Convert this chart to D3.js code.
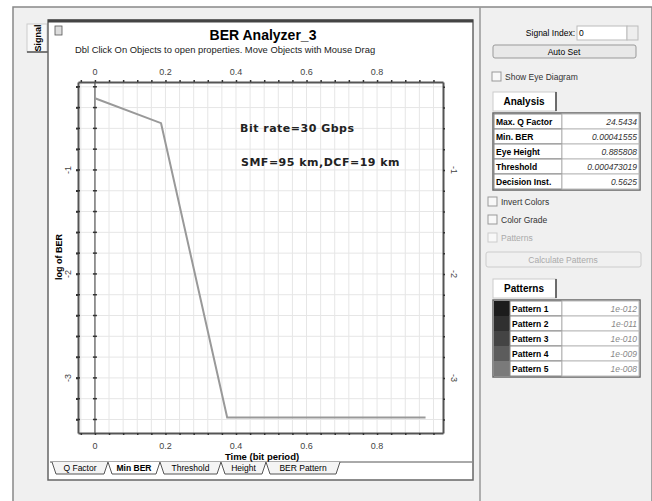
<!DOCTYPE html>
<html>
<head>
<meta charset="utf-8">
<script src="https://cdn.jsdelivr.net/npm/d3@7"></script>
<style>
  body { margin: 0; background: #fff; }
  svg { font-family: "Liberation Sans", Arial, sans-serif; }
</style>
</head>
<body>
<script>
// values
var times = [0, 0.1875, 0.375, 0.9375];
var logBer = [-0.31, -0.55, -3.38, -3.38];
var xTicks = [0, 0.2, 0.4, 0.6, 0.8];
var yTicks = [-1, -2, -3];
var tabNames = ["Q Factor", "Min BER", "Threshold", "Height", "BER Pattern"];
var analysisNames = ["Max. Q Factor", "Min. BER", "Eye Height", "Threshold", "Decision Inst."];
var analysisValues = ["24.5434", "0.00041555", "0.885808", "0.000473019", "0.5625"];
var patternNames = ["Pattern 1", "Pattern 2", "Pattern 3", "Pattern 4", "Pattern 5"];
var patternValues = ["1e-012", "1e-011", "1e-010", "1e-009", "1e-008"];
var patternColors = ["#1c1c1c", "#303030", "#444", "#5c5c5c", "#7a7a7a"];

var width = 652, height = 501;
var svg = d3.select("body").append("svg")
    .attr("width", width)
    .attr("height", height);

// window frame
svg.append("rect").attr("x", 13).attr("y", 7).attr("width", 639).attr("height", 500)
    .attr("fill", "#f0f0f0").attr("stroke", "#888").attr("stroke-width", 1.5);
svg.append("line").attr("x1", 480).attr("x2", 480).attr("y1", 7).attr("y2", 501)
    .attr("stroke", "#999").attr("stroke-width", 1.5);

// left "Signal" tab
svg.append("rect").attr("x", 27).attr("y", 24).attr("width", 20).attr("height", 28)
    .attr("fill", "#f8f8f8").attr("stroke", "#ccc");
svg.append("line").attr("x1", 27).attr("x2", 48).attr("y1", 52).attr("y2", 52).attr("stroke", "#555").attr("stroke-width", 1.5);
svg.append("text").attr("transform", "translate(41,38) rotate(-90)")
    .attr("text-anchor", "middle").attr("font-size", 9).attr("font-weight", "bold").text("Signal");

// chart panel
svg.append("rect").attr("x", 48).attr("y", 20).attr("width", 425).attr("height", 460)
    .attr("fill", "#fff").attr("stroke", "#666").attr("stroke-width", 1.5);
svg.append("line").attr("x1", 48).attr("x2", 473).attr("y1", 21).attr("y2", 21)
    .attr("stroke", "#444").attr("stroke-width", 3);
// small icon
svg.append("rect").attr("x", 55).attr("y", 26).attr("width", 7).attr("height", 9)
    .attr("fill", "#ddd").attr("stroke", "#555").attr("stroke-width", 0.8);

svg.append("text").attr("x", 263).attr("y", 40).attr("text-anchor", "middle")
    .attr("font-size", 14).attr("font-weight", "bold").text("BER Analyzer_3");
svg.append("text").attr("x", 75).attr("y", 53).attr("font-size", 9.4).attr("fill", "#222")
    .text("Dbl Click On Objects to open properties.  Move Objects with Mouse Drag");

// plot
var x = d3.scaleLinear().domain([-0.048, 0.987]).range([78, 443]);
var y = d3.scaleLinear().domain([-0.154, -3.53]).range([82, 433]);

var xMinor = d3.range(-0.04, 0.97, 0.04);
var yMinor = d3.range(-0.2, -3.5, -0.2);

var grid = svg.append("g");
grid.selectAll("line.vx").data(xMinor).enter().append("line")
    .attr("x1", function(d) { return x(d); }).attr("x2", function(d) { return x(d); })
    .attr("y1", y.range()[0]).attr("y2", y.range()[1])
    .attr("stroke", "#e6e6e6").attr("stroke-width", 1);
grid.selectAll("line.hy").data(yMinor).enter().append("line")
    .attr("y1", function(d) { return y(d); }).attr("y2", function(d) { return y(d); })
    .attr("x1", x.range()[0]).attr("x2", x.range()[1])
    .attr("stroke", "#e6e6e6").attr("stroke-width", 1);

// zero line
svg.append("line").attr("x1", x(0)).attr("x2", x(0)).attr("y1", y.range()[0]).attr("y2", y.range()[1])
    .attr("stroke", "#777").attr("stroke-width", 1.5);

// axes with minor ticks as marks
function tickAxis(axis, pos) {
  return svg.append("g").attr("transform", pos).call(axis)
    .call(function(g) { g.select(".domain").attr("stroke", "#555").attr("stroke-width", 2); })
    .call(function(g) { g.selectAll(".tick line").attr("stroke", "#333").attr("stroke-width", 1.5); });
}
tickAxis(d3.axisTop(x).tickValues(xMinor).tickSize(2).tickSizeOuter(0).tickFormat(""), "translate(0," + y.range()[0] + ")");
tickAxis(d3.axisBottom(x).tickValues(xMinor).tickSize(2).tickSizeOuter(0).tickFormat(""), "translate(0," + y.range()[1] + ")");
tickAxis(d3.axisLeft(y).tickValues(yMinor).tickSize(2).tickSizeOuter(0).tickFormat(""), "translate(" + x.range()[0] + ",0)");
tickAxis(d3.axisRight(y).tickValues(yMinor).tickSize(2).tickSizeOuter(0).tickFormat(""), "translate(" + x.range()[1] + ",0)");
// ticks on the zero line
svg.append("g").selectAll("line").data(yMinor).enter().append("line")
    .attr("x1", x(0) - 2).attr("x2", x(0) + 2)
    .attr("y1", function(d) { return y(d); }).attr("y2", function(d) { return y(d); })
    .attr("stroke", "#333").attr("stroke-width", 1.5);
svg.append("g").selectAll("line").data(yMinor).enter().append("line")
    .attr("x1", x.range()[0] - 2).attr("x2", x.range()[0] + 2)
    .attr("y1", function(d) { return y(d); }).attr("y2", function(d) { return y(d); })
    .attr("stroke", "#333").attr("stroke-width", 1.5);

// tick labels
var lab = svg.append("g").attr("font-size", 9).attr("fill", "#444");
lab.selectAll("text.t").data(xTicks).enter().append("text")
    .attr("x", function(d) { return x(d); }).attr("y", 75).attr("text-anchor", "middle")
    .text(function(d) { return d === 0 ? "0" : d3.format(".1f")(d); });
lab.selectAll("text.b").data(xTicks).enter().append("text")
    .attr("x", function(d) { return x(d); }).attr("y", 449).attr("text-anchor", "middle")
    .text(function(d) { return d === 0 ? "0" : d3.format(".1f")(d); });
lab.selectAll("text.l").data(yTicks).enter().append("text")
    .attr("transform", function(d) { return "translate(71," + y(d) + ") rotate(-90)"; })
    .attr("text-anchor", "middle").text(function(d) { return d; });
lab.selectAll("text.r").data(yTicks).enter().append("text")
    .attr("transform", function(d) { return "translate(451," + y(d) + ") rotate(90)"; })
    .attr("text-anchor", "middle").text(function(d) { return d; });

svg.append("text").attr("transform", "translate(62,257) rotate(-90)")
    .attr("text-anchor", "middle").attr("font-size", 9).attr("font-weight", "bold").text("log of BER");
svg.append("text").attr("x", 262).attr("y", 460).attr("text-anchor", "middle")
    .attr("font-size", 9.5).attr("font-weight", "bold").text("Time (bit period)");

// data line
var pts = times.map(function(t, i) { return [t, logBer[i]]; });
svg.append("path").datum(pts)
    .attr("fill", "none").attr("stroke", "#999").attr("stroke-width", 2)
    .attr("d", d3.line().x(function(d) { return x(d[0]); }).y(function(d) { return y(d[1]); }));

var note = svg.append("g").attr("font-family", "'DejaVu Sans', sans-serif")
    .attr("font-size", 11).attr("font-weight", "bold").attr("fill", "#222").attr("letter-spacing", 0.5);
note.append("text").attr("x", 240).attr("y", 132).text("Bit rate=30 Gbps");
note.append("text").attr("x", 241).attr("y", 166).text("SMF=95 km,DCF=19 km");

// bottom tabs
var tabX = [52, 108, 160, 221, 266, 340];
svg.append("line").attr("x1", 50).attr("x2", 472).attr("y1", 462).attr("y2", 462).attr("stroke", "#555");
var tabs = svg.append("g");
tabNames.forEach(function(n, i) {
  var x0 = tabX[i], x1 = tabX[i + 1];
  tabs.append("path")
      .attr("d", "M" + x0 + ",462 L" + (x0 + 4) + ",474 L" + (x1 - 4) + ",474 L" + x1 + ",462")
      .attr("fill", i === 1 ? "#fff" : "#f4f4f4").attr("stroke", "#555");
  tabs.append("text").attr("x", (x0 + x1) / 2).attr("y", 471).attr("text-anchor", "middle")
      .attr("font-size", 8.5).attr("font-weight", i === 1 ? "bold" : "normal").text(n);
});

// right panel
var rp = svg.append("g").attr("font-size", 8.5);
rp.append("text").attr("x", 575).attr("y", 36).attr("text-anchor", "end").text("Signal Index:");
rp.append("rect").attr("x", 577).attr("y", 26).attr("width", 50).attr("height", 14).attr("fill", "#fff").attr("stroke", "#bbb");
rp.append("text").attr("x", 579).attr("y", 36).text("0");
rp.append("rect").attr("x", 627).attr("y", 26).attr("width", 11).attr("height", 14).attr("fill", "#eee").attr("stroke", "#bbb");
rp.append("rect").attr("x", 493).attr("y", 45).attr("width", 143).attr("height", 13).attr("rx", 2)
    .attr("fill", "#e8e8e8").attr("stroke", "#999");
rp.append("text").attr("x", 564).attr("y", 55).attr("text-anchor", "middle").text("Auto Set");

function checkbox(cx, cy, label, faded) {
  rp.append("rect").attr("x", cx).attr("y", cy - 7).attr("width", 9).attr("height", 9)
      .attr("fill", "#f8f8f8").attr("stroke", faded ? "#ccc" : "#999");
  rp.append("text").attr("x", cx + 13).attr("y", cy + 1).attr("fill", faded ? "#aaa" : "#333").text(label);
}
checkbox(492, 79, "Show Eye Diagram", false);

function tabbedTable(top, title, names, values, colors) {
  rp.append("rect").attr("x", 493).attr("y", top - 21).attr("width", 63).attr("height", 19)
      .attr("fill", "#fff").attr("stroke", "#ccc");
  rp.append("line").attr("x1", 556).attr("x2", 556).attr("y1", top - 21).attr("y2", top - 2).attr("stroke", "#444").attr("stroke-width", 1.5);
  rp.append("text").attr("x", 524).attr("y", top - 8).attr("text-anchor", "middle")
      .attr("font-size", 10).attr("font-weight", "bold").text(title);
  var rowH = 15, x0 = colors ? 510 : 494;
  rp.append("rect").attr("x", 493).attr("y", top).attr("width", 147).attr("height", rowH * names.length + 2)
      .attr("fill", "#fff").attr("stroke", "#666").attr("stroke-width", 1.5);
  names.forEach(function(n, i) {
    var ry = top + 1 + i * rowH;
    if (colors) rp.append("rect").attr("x", 494).attr("y", ry).attr("width", 16).attr("height", rowH)
        .attr("fill", colors[i]);
    rp.append("rect").attr("x", x0).attr("y", ry).attr("width", 562 - x0).attr("height", rowH)
        .attr("fill", "#fff").attr("stroke", "#888");
    rp.append("rect").attr("x", 562).attr("y", ry).attr("width", 77).attr("height", rowH)
        .attr("fill", "#fff").attr("stroke", "#bbb");
    rp.append("text").attr("x", x0 + 2).attr("y", ry + 11).attr("font-weight", "bold").text(n);
    rp.append("text").attr("x", 637).attr("y", ry + 11).attr("text-anchor", "end")
        .attr("font-style", "italic").attr("fill", colors ? "#888" : "#333").text(values[i]);
  });
}
tabbedTable(113, "Analysis", analysisNames, analysisValues, null);

checkbox(488, 204, "Invert Colors", false);
checkbox(488, 222, "Color Grade", false);
checkbox(488, 240, "Patterns", true);
rp.append("rect").attr("x", 486).attr("y", 252).attr("width", 155).attr("height", 15).attr("rx", 2)
    .attr("fill", "#f0f0f0").attr("stroke", "#ccc");
rp.append("text").attr("x", 563).attr("y", 263).attr("text-anchor", "middle").attr("fill", "#aaa").text("Calculate Patterns");

tabbedTable(300, "Patterns", patternNames, patternValues, patternColors);
</script>
</body>
</html>
